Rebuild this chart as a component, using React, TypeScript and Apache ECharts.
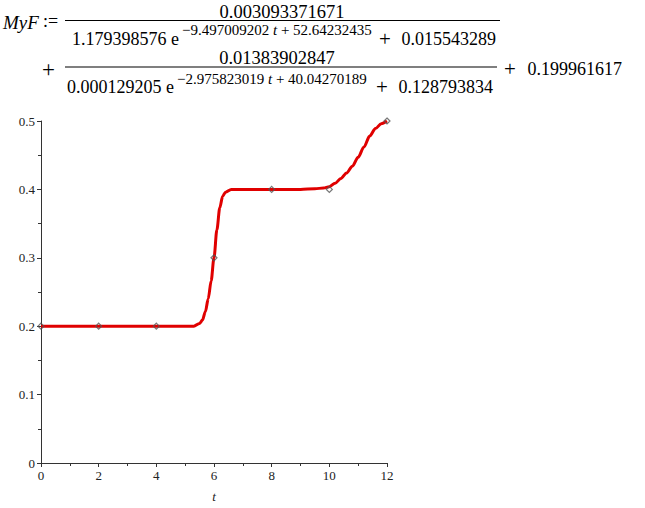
import { useEffect, useRef } from 'react';
import * as echarts from 'echarts';

// fitted curve
const curveT = [0, 1, 2, 3, 4, 5, 5.3, 5.5, 5.6, 5.7, 5.8, 5.9, 6, 6.1, 6.2, 6.3, 6.4, 6.6, 7, 8, 9, 9.5, 9.8, 10, 10.2, 10.4, 10.6, 10.8, 11, 11.2, 11.4, 11.6, 11.8, 12];
const curveF = [0.2, 0.2, 0.2, 0.2, 0.2, 0.2, 0.2, 0.204, 0.209, 0.221, 0.24, 0.266, 0.3, 0.341, 0.373, 0.39, 0.396, 0.4, 0.4, 0.4, 0.4, 0.401, 0.402, 0.404, 0.409, 0.416, 0.424, 0.434, 0.447, 0.462, 0.478, 0.489, 0.496, 0.5];

// measured points
const pointT = [0, 2, 4, 6, 8, 10, 12];
const pointF = [0.2, 0.2, 0.2, 0.3, 0.4, 0.4, 0.5];

const SERIF = '"Liberation Serif", "Times New Roman", serif';

export default function App() {
  const chartRef = useRef<HTMLDivElement>(null);

  useEffect(() => {
    document.body.style.margin = '0';
    if (!chartRef.current) return;
    const chart = echarts.init(chartRef.current, null, { renderer: 'svg' });

    const txt = (text: string, x: number, y: number, size: number, align = 'left', italic = false) => ({
      type: 'text',
      x,
      y,
      style: {
        text,
        font: `${italic ? 'italic ' : ''}${size}px ${SERIF}`,
        fill: '#000',
        align,
        verticalAlign: 'middle',
      },
    });

    const expo = (a: string, b: string, x: number, y: number) => ({
      type: 'text',
      x,
      y,
      style: {
        text: `{n|${a} }{i|t}{n| + ${b}}`,
        verticalAlign: 'middle',
        rich: {
          n: { font: `15px ${SERIF}`, fill: '#000' },
          i: { font: `italic 15px ${SERIF}`, fill: '#000' },
        },
      },
    });

    const option: echarts.EChartsOption = {
      animation: false,
      backgroundColor: '#fff',
      grid: { left: 41, right: 258, top: 121, bottom: 41 },
      xAxis: {
        type: 'value',
        min: 0,
        max: 12,
        interval: 2,
        name: 't',
        nameLocation: 'middle',
        nameGap: 27,
        nameTextStyle: { fontFamily: SERIF, fontStyle: 'italic', fontSize: 13, color: '#222' },
        axisLine: { onZero: false, lineStyle: { color: '#333', width: 1 } },
        axisTick: { length: 4, lineStyle: { color: '#333' } },
        minorTick: { show: true, splitNumber: 2, length: 3, lineStyle: { color: '#333' } },
        splitLine: { show: false },
        axisLabel: { fontFamily: SERIF, fontSize: 13, color: '#222', margin: 6 },
      },
      yAxis: {
        type: 'value',
        min: 0,
        max: 0.5,
        interval: 0.1,
        axisLine: { show: true, lineStyle: { color: '#333', width: 1 } },
        axisTick: { show: true, length: 4, lineStyle: { color: '#333' } },
        minorTick: { show: true, splitNumber: 2, length: 3, lineStyle: { color: '#333' } },
        splitLine: { show: false },
        axisLabel: { fontFamily: SERIF, fontSize: 13, color: '#222', margin: 6 },
      },
      series: [
        {
          type: 'line',
          data: curveT.map((t, i) => [t, curveF[i]]),
          showSymbol: false,
          smooth: 0.3,
          smoothMonotone: 'x',
          lineStyle: { color: '#e00000', width: 3 },
          z: 2,
        },
        {
          type: 'scatter',
          data: pointT.map((t, i) => [t, pointF[i]]),
          symbol: 'diamond',
          symbolSize: 6,
          itemStyle: { color: 'rgba(0,0,0,0)', borderColor: '#555', borderWidth: 1.2 },
          z: 3,
        },
      ],
      graphic: [
        // MyF := first fraction
        txt('MyF', 3, 22, 19, 'left', true),
        txt(':=', 43, 21, 18),
        txt('0.003093371671', 282, 12, 18.5, 'center'),
        { type: 'line', shape: { x1: 65, y1: 20.5, x2: 500, y2: 20.5 }, style: { stroke: '#000', lineWidth: 1.2 } },
        txt('1.179398576 e', 72, 39, 18),
        expo('−9.497009202', '52.64232435', 182, 30),
        txt('+', 379, 39, 21),
        txt('0.015543289', 496, 39, 18, 'right'),
        // second fraction
        txt('+', 42, 69, 23),
        txt('0.01383902847', 277, 58, 18.5, 'center'),
        { type: 'line', shape: { x1: 65, y1: 67, x2: 497, y2: 67 }, style: { stroke: '#000', lineWidth: 1.2 } },
        txt('0.000129205 e', 67, 87, 18),
        expo('−2.975823019', '40.04270189', 177, 79),
        txt('+', 376, 87, 21),
        txt('0.128793834', 493, 87, 18, 'right'),
        txt('+', 504, 69, 21),
        txt('0.199961617', 622, 69, 18, 'right'),
      ] as any,
    };

    chart.setOption(option);
    return () => chart.dispose();
  }, []);

  return <div ref={chartRef} style={{ width: 645, height: 508 }} />;
}
